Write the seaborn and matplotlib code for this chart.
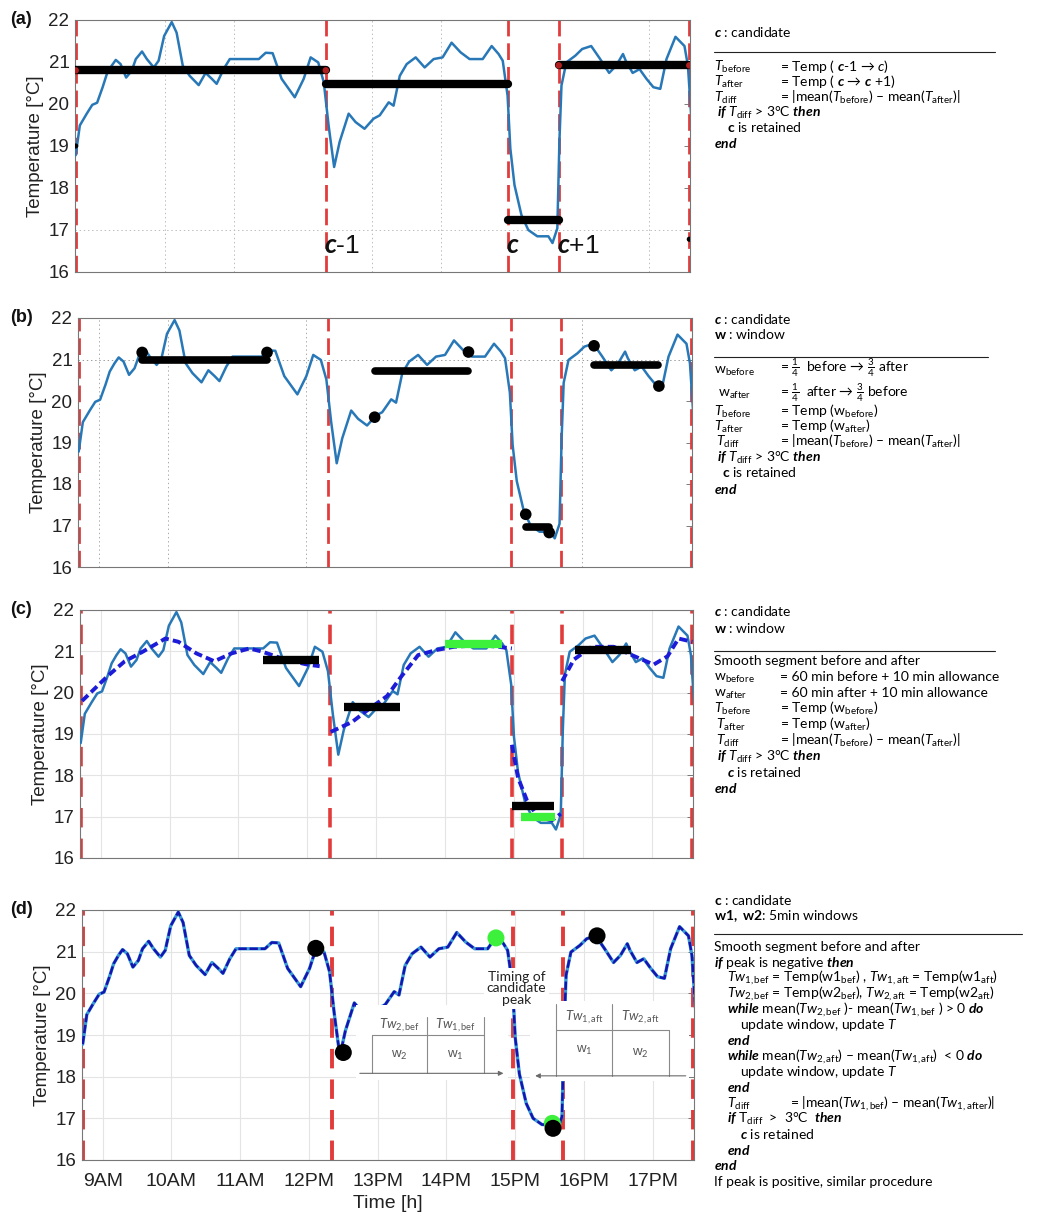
import matplotlib
matplotlib.use("Agg")
import matplotlib.pyplot as plt
import seaborn as sns
from matplotlib.lines import Line2D
from matplotlib.patches import Rectangle

W, H = 1046, 1215

# temperature record (hours of the day, degC)
hours = [8.71, 8.77, 8.87, 8.95, 9.02, 9.10, 9.16, 9.23, 9.29, 9.36, 9.44, 9.52, 9.58, 9.67, 9.74,
         9.84, 9.91, 9.99, 10.10, 10.17, 10.26, 10.36, 10.49, 10.59, 10.68, 10.75, 10.85, 10.94,
         11.10, 11.36, 11.46, 11.56, 11.69, 11.88, 12.01, 12.11, 12.22, 12.30, 12.37, 12.45, 12.53,
         12.66, 12.76, 12.89, 13.02, 13.11, 13.24, 13.31, 13.40, 13.50, 13.63, 13.76, 13.89, 14.02,
         14.15, 14.28, 14.41, 14.60, 14.73, 14.83, 14.89, 14.96, 15.00, 15.06, 15.16, 15.26, 15.39,
         15.55, 15.61, 15.68, 15.71, 15.74, 15.81, 15.94, 16.04, 16.17, 16.30, 16.43, 16.53, 16.63,
         16.67, 16.77, 16.87, 16.97, 17.07, 17.17, 17.26, 17.39, 17.52, 17.57, 17.62]
temp = [18.78, 19.49, 19.77, 19.98, 20.03, 20.40, 20.71, 20.91, 21.05, 20.95, 20.63, 20.79, 21.07,
        21.25, 21.07, 20.87, 21.03, 21.62, 21.95, 21.70, 20.91, 20.67, 20.45, 20.74, 20.60, 20.48,
        20.83, 21.07, 21.07, 21.07, 21.22, 21.21, 20.60, 20.16, 20.60, 21.11, 20.99, 20.52, 19.49,
        18.50, 19.10, 19.77, 19.57, 19.41, 19.65, 19.73, 20.04, 19.96, 20.67, 20.95, 21.11, 20.87,
        21.07, 21.11, 21.46, 21.23, 21.07, 21.07, 21.38, 21.19, 21.03, 20.20, 18.94, 18.07, 17.36,
        17.00, 16.85, 16.85, 16.69, 17.04, 19.10, 20.44, 20.99, 21.15, 21.31, 21.38, 21.07, 20.74,
        20.91, 21.19, 21.03, 20.74, 20.83, 20.60, 20.40, 20.36, 21.07, 21.60, 21.38, 20.91, 19.65]

cand_hours = [8.71, 12.33, 14.97, 15.70, 17.59]
hour_ticks = [9, 10, 11, 12, 13, 14, 15, 16, 17]
hour_labels = ["9AM", "10AM", "11AM", "12PM", "13PM", "14PM", "15PM", "16PM", "17PM"]

# (a) mean between candidates
a_start = [8.70, 12.33, 14.97, 15.70]
a_end = [12.33, 14.97, 15.70, 17.59]
a_level = [20.80, 20.47, 17.23, 20.92]
a_red_x = [8.71, 12.33, 15.70, 17.59]
a_red_y = [20.80, 20.80, 20.92, 20.92]
a_dot_x = [8.71, 17.59]
a_dot_y = [19.00, 16.78]

# (b) quarter windows
b_start = [9.63, 13.00, 15.19, 16.18]
b_end = [11.44, 14.35, 15.53, 17.10]
b_level = [21.00, 20.73, 16.97, 20.87]
b_dot_x = [9.63, 11.44, 13.00, 14.36, 15.19, 15.53, 16.18, 17.12]
b_dot_y = [21.17, 21.17, 19.61, 21.18, 17.27, 16.83, 21.33, 20.36]

# (c) 60 min windows on smoothed segments
c_start = [11.35, 12.53, 14.97, 15.88]
c_end = [12.17, 13.35, 15.58, 16.70]
c_level = [20.78, 19.66, 17.25, 21.04]
c_green_start = [14.00, 15.10]
c_green_end = [14.82, 15.60]
c_green_level = [21.17, 17.00]
smooth_x = [[8.73, 9.10, 9.35, 9.61, 9.94, 10.13, 10.39, 10.65, 10.90, 11.16, 11.35, 11.68, 12.00, 12.18],
            [12.34, 12.65, 12.90, 13.16, 13.35, 13.61, 13.87, 14.13, 14.52, 14.77, 14.97],
            [14.97, 15.06, 15.19, 15.35, 15.55, 15.68],
            [15.70, 15.87, 16.13, 16.45, 16.71, 17.03, 17.23, 17.39, 17.59]]
smooth_y = [[19.80, 20.40, 20.76, 20.99, 21.31, 21.23, 20.95, 20.76, 20.95, 21.07, 20.99, 20.80, 20.68, 20.64],
            [19.05, 19.29, 19.61, 19.92, 20.36, 20.91, 21.03, 21.11, 21.15, 21.11, 21.07],
            [18.74, 17.94, 17.39, 16.99, 16.91, 17.07],
            [20.28, 20.80, 21.11, 21.11, 20.91, 20.68, 20.88, 21.31, 21.23]]

# (d) 5 min windows
d_black_x = [12.10, 12.50, 15.55, 16.19]
d_black_y = [21.08, 18.58, 16.76, 21.38]
d_green_x = [14.72, 15.54]
d_green_y = [21.33, 16.88]

RED = "#e23b3b"
BLUE = "#2878b8"
GREEN = "#3cf03c"
TXT = "Lato"

sns.set_theme(style="white")
plt.rcParams["font.family"] = ["Liberation Sans", "DejaVu Sans"]
plt.rcParams["mathtext.fontset"] = "custom"
plt.rcParams["mathtext.rm"] = TXT
plt.rcParams["mathtext.it"] = TXT + ":italic"
plt.rcParams["mathtext.bf"] = TXT + ":bold"
plt.rcParams["mathtext.bfit"] = TXT + ":italic:bold"
plt.rcParams["lines.scale_dashes"] = False
plt.rcParams["lines.solid_joinstyle"] = "round"

fig = plt.figure(figsize=(W / 100, H / 100), dpi=100)


def axes_px(left, top, right, bottom):
    return fig.add_axes([left / W, 1 - bottom / H, (right - left) / W, (bottom - top) / H])


def style(ax, letter, top_px, show_x=False):
    ax.set_xlim(8.7, 17.6)
    ax.set_ylim(16, 22)
    ax.set_yticks(range(16, 23))
    ax.set_xticks(hour_ticks)
    ax.set_xticklabels(hour_labels if show_x else [])
    ax.tick_params(direction="in", length=4, width=0.6, color="#666", labelsize=13.5,
                   labelcolor="#222", pad=4, right=True)
    ax.tick_params(axis="x", labelsize=14, pad=9)
    ax.set_ylabel("Temperature [°C]", fontsize=13.5, color="#222", labelpad=3)
    ax.set_xlabel("Time [h]" if show_x else "", fontsize=14, color="#222", labelpad=4)
    for s in ax.spines.values():
        s.set_color("#777")
        s.set_linewidth(0.8)
    fig.text(10 / W, 1 - top_px / H, f"({letter})", fontsize=13, fontweight="bold",
             va="center", ha="left", color="#111")


def cand_lines(ax, lw, dash):
    for h in cand_hours:
        ax.axvline(h, color=RED, lw=lw, dashes=dash, zorder=2.5)


# ---------------- (a)
ax = axes_px(75, 20, 690, 272)
style(ax, "a", 20)
for g in [10, 11, 13, 14, 17]:
    ax.axvline(g, color="#bbbbbb", lw=0.7, ls=(0, (1, 2)), zorder=0)
ax.axhline(17, color="#bbbbbb", lw=0.7, ls=(0, (1, 2)), zorder=0)
cand_lines(ax, 2.0, (12, 5))
sns.lineplot(x=hours, y=temp, ax=ax, color=BLUE, lw=1.8, zorder=3)
lc = ax.hlines(a_level, a_start, a_end, color="black", lw=6, zorder=4)
lc.set_capstyle("round")
sns.scatterplot(x=a_red_x, y=a_red_y, ax=ax, color="#b02020", s=22, edgecolor="none", zorder=5)
sns.scatterplot(x=a_dot_x, y=a_dot_y, ax=ax, color="black", s=14, edgecolor="none", zorder=5)
for h, lab in zip(cand_hours[1:4], [r"$\mathbfit{c}$-1", r"$\mathbfit{c}$", r"$\mathbfit{c}$+1"]):
    ax.text(h - 0.03, 16.62, lab, fontsize=19, ha="left", va="center", color="#111", zorder=6)

# ---------------- (b)
ax = axes_px(78, 318, 692, 567)
style(ax, "b", 318)
for g in [9, 10, 12, 16]:
    ax.axvline(g, color="#aaaaaa", lw=0.7, ls=(0, (1, 2)), zorder=0)
ax.axhline(21, color="#999999", lw=0.7, ls=(0, (1, 2)), zorder=0)
cand_lines(ax, 2.0, (12, 5))
sns.lineplot(x=hours, y=temp, ax=ax, color=BLUE, lw=1.8, zorder=3)
lc = ax.hlines(b_level, b_start, b_end, color="black", lw=5.5, zorder=4)
lc.set_capstyle("round")
sns.scatterplot(x=b_dot_x, y=b_dot_y, ax=ax, color="black", s=70, edgecolor="none", zorder=5)

# ---------------- (c)
ax = axes_px(80, 610, 693, 858)
style(ax, "c", 610)
ax.grid(True, color="#e4e4e4", lw=0.8)
ax.set_axisbelow(True)
cand_lines(ax, 2.6, (14, 8))
sns.lineplot(x=hours, y=temp, ax=ax, color=BLUE, lw=1.8, zorder=3)
for sx, sy in zip(smooth_x, smooth_y):
    sns.lineplot(x=sx, y=sy, ax=ax, color="#1c1cd8", lw=2.8, zorder=3.5, linestyle=(0, (6, 3)))
ax.hlines(c_level, c_start, c_end, color="black", lw=6, zorder=4)
ax.hlines(c_green_level, c_green_start, c_green_end, color=GREEN, lw=6, zorder=4)

# ---------------- (d)
ax = axes_px(82, 910, 694, 1160)
style(ax, "d", 910, show_x=True)
ax.grid(True, color="#e4e4e4", lw=0.8)
ax.set_axisbelow(True)
cand_lines(ax, 2.8, (14, 8))
sns.lineplot(x=hours, y=temp, ax=ax, color="#3a9ad8", lw=2.4, zorder=3)
sns.lineplot(x=hours, y=temp, ax=ax, color="#1414b0", lw=1.8, zorder=3.1, linestyle=(0, (6, 2)))
sns.scatterplot(x=d_green_x, y=d_green_y, ax=ax, color=GREEN, s=150, edgecolor="none", zorder=5)
sns.scatterplot(x=d_black_x, y=d_black_y, ax=ax, color="black", s=150, edgecolor="none", zorder=5.2)

# inset sketch of the two 5 min windows
ax.add_patch(Rectangle((12.68, 17.92), 2.22, 1.80, facecolor="white", edgecolor="none", zorder=4))
ax.add_patch(Rectangle((15.22, 17.90), 2.31, 1.92, facecolor="white", edgecolor="none", zorder=4))
gk = dict(color="#8a8a8a", lw=0.8, zorder=4.5)
ax.plot([12.92, 14.54], [19.0, 19.0], **gk)
ax.plot([12.92, 12.92], [18.08, 19.0], **gk)
ax.plot([13.72, 13.72], [18.08, 19.44], **gk)
ax.plot([14.54, 14.54], [18.08, 19.44], **gk)
ax.plot([15.59, 17.24], [19.12, 19.12], **gk)
ax.plot([15.59, 15.59], [18.02, 19.75], **gk)
ax.plot([16.41, 16.41], [18.02, 19.75], **gk)
ax.plot([17.24, 17.24], [18.02, 19.12], **gk)
arrow = dict(arrowstyle="-|>", color="#6a6a6a", lw=0.8, mutation_scale=7)
ax.annotate("", xy=(14.87, 18.08), xytext=(12.70, 18.08), arrowprops=arrow, zorder=4.5)
ax.annotate("", xy=(15.25, 18.02), xytext=(17.52, 18.02), arrowprops=arrow, zorder=4.5)
tk = dict(fontsize=9.5, color="#555", ha="center", va="center", zorder=4.6)
ax.text(13.32, 19.22, r"$\mathit{Tw}_{2,\mathrm{bef}}$", **tk)
ax.text(14.13, 19.22, r"$\mathit{Tw}_{1,\mathrm{bef}}$", **tk)
ax.text(13.32, 18.50, r"w$_2$", **tk)
ax.text(14.13, 18.52, r"w$_1$", **tk)
ax.text(16.00, 19.42, r"$\mathit{Tw}_{1,\mathrm{aft}}$", **tk)
ax.text(16.82, 19.42, r"$\mathit{Tw}_{2,\mathrm{aft}}$", **tk)
ax.text(16.00, 18.62, r"w$_1$", **tk)
ax.text(16.82, 18.55, r"w$_2$", **tk)
ax.text(15.02, 20.12, "Timing of\ncandidate\npeak", fontsize=10, family=TXT, color="#222",
        ha="center", va="center", linespacing=0.95, zorder=4.8,
        bbox=dict(facecolor="white", edgecolor="none", pad=2))

# ---------------- algorithm text on the right
FS = 10


def line(x, y, s):
    fig.text(x / W, 1 - (y + 5) / H, s, fontsize=FS, family=TXT, color="#000",
             ha="left", va="baseline")


def sep(y, x1):
    fig.add_artist(Line2D([714 / W, x1 / W], [1 - y / H, 1 - y / H], color="#222", lw=0.8))


Tb = r"$\mathit{T}_{\mathrm{before}}$"
Ta = r"$\mathit{T}_{\mathrm{after}}$"
Td = r"$\mathit{T}_{\mathrm{diff}}$"
MEAN = r"= |mean($\mathit{T}_{\mathrm{before}}$) – mean($\mathit{T}_{\mathrm{after}}$)|"
IF = r"$\mathbfit{if}$ $\mathit{T}_{\mathrm{diff}}$ > 3°C $\mathbfit{then}$"
END = r"$\mathbfit{end}$"

# (a)
line(714, 32, r"$\mathbfit{c}$ : candidate")
sep(52, 995)
line(714, 66, Tb); line(780, 66, r"= Temp ( $\mathbfit{c}$-1 → $\mathit{c}$)")
line(714, 81, Ta); line(780, 81, r"= Temp ( $\mathbfit{c}$ → $\mathbfit{c}$ +1)")
line(714, 97, Td); line(780, 97, MEAN)
line(717, 112, IF)
line(727, 127, r"$\mathbf{c}$ is retained")
line(714, 143, END)

# (b)
line(714, 319, r"$\mathbfit{c}$ : candidate")
line(714, 334, r"$\mathbf{w}$ : window")
sep(357, 988)
line(714, 369, r"w$_{\mathrm{before}}$"); line(780, 367, r"= $\frac{1}{4}$  before → $\frac{3}{4}$ after")
line(718, 392, r"w$_{\mathrm{after}}$"); line(780, 392, r"= $\frac{1}{4}$  after → $\frac{3}{4}$ before")
line(714, 411, Tb); line(780, 411, r"= Temp (w$_{\mathrm{before}}$)")
line(714, 426, Ta); line(780, 426, r"= Temp (w$_{\mathrm{after}}$)")
line(716, 441, Td); line(780, 441, MEAN)
line(717, 457, IF)
line(722, 472, r"$\mathbf{c}$ is retained")
line(714, 489, END)

# (c)
line(714, 611, r"$\mathbfit{c}$ : candidate")
line(714, 628, r"$\mathbf{w}$ : window")
sep(651, 995)
line(714, 660, "Smooth segment before and after")
line(714, 676, r"w$_{\mathrm{before}}$"); line(780, 676, "= 60 min before + 10 min allowance")
line(714, 692, r"w$_{\mathrm{after}}$"); line(780, 692, "= 60 min after + 10 min allowance")
line(714, 708, Tb); line(780, 708, r"= Temp (w$_{\mathrm{before}}$)")
line(716, 724, Ta); line(780, 724, r"= Temp (w$_{\mathrm{after}}$)")
line(716, 740, Td); line(780, 740, MEAN)
line(717, 756, IF)
line(727, 772, r"$\mathbfit{c}$ is retained")
line(714, 788, END)

# (d)
line(714, 900, r"$\mathbf{c}$ : candidate")
line(714, 915, r"$\mathbf{w1,\ w2}$: 5min windows")
sep(934, 1022)
line(714, 946, "Smooth segment before and after")
line(714, 962, r"$\mathbfit{if}$ peak is negative $\mathbfit{then}$")
line(727, 977, r"$\mathit{Tw}_{1,\mathrm{bef}}$ = Temp(w1$_{\mathrm{bef}}$) , $\mathit{Tw}_{1,\mathrm{aft}}$ = Temp(w1$_{\mathrm{aft}}$)")
line(727, 993, r"$\mathit{Tw}_{2,\mathrm{bef}}$ = Temp(w2$_{\mathrm{bef}}$), $\mathit{Tw}_{2,\mathrm{aft}}$ = Temp(w2$_{\mathrm{aft}}$)")
line(727, 1009, r"$\mathbfit{while}$ mean($\mathit{Tw}_{2,\mathrm{bef}}$ )- mean($\mathit{Tw}_{1,\mathrm{bef}}$ ) > 0 $\mathbfit{do}$")
line(740, 1024, r"update window, update $\mathit{T}$")
line(727, 1040, END)
line(727, 1056, r"$\mathbfit{while}$ mean($\mathit{Tw}_{2,\mathrm{aft}}$) – mean($\mathit{Tw}_{1,\mathrm{aft}}$)  < 0 $\mathbfit{do}$")
line(740, 1071, r"update window, update $\mathit{T}$")
line(727, 1087, END)
line(727, 1103, Td); line(790, 1103, r"= |mean($\mathit{Tw}_{1,\mathrm{bef}}$) – mean($\mathit{Tw}_{1,\mathrm{after}}$)|")
line(727, 1118, r"$\mathbfit{if}$ T$_{\mathrm{diff}}$  >  3°C  $\mathbfit{then}$")
line(740, 1134, r"$\mathbfit{c}$ is retained")
line(727, 1150, END)
line(714, 1165, END)
line(714, 1181, "If peak is positive, similar procedure")

fig.savefig("out.png", dpi=100)
